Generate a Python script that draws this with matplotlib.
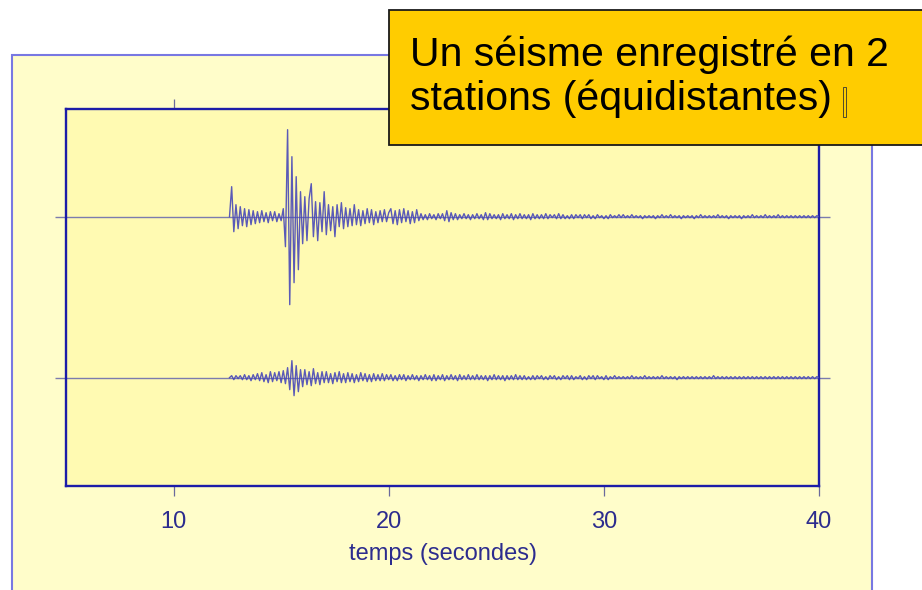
import numpy as np
import matplotlib
matplotlib.use("Agg")
import matplotlib.pyplot as plt
from matplotlib.patches import Rectangle

# ---------------- data ----------------
title_lines = ["Un séisme enregistré en 2", "stations (équidistantes)"]
x_label = "temps (secondes)"
x_ticks = [10, 20, 30, 40]

t_start = 12.6      # s, first sample of both records
dt = 0.1            # s, sample interval

# station 1 (upper trace), amplitude in counts
station_top = [
    0, 30, -15, 12, -12,
    10, -9, 8, -10, 7, -8, 6, -7, 5, -6,
    6, -5, 4, -6, 5, -4, 5, -5, 3, -4,
    8, -30, 87, -88, 60, -66, 40, -53, 25, -27,
    20, -24, 18, 33, -20, 15, -24, 14, -15, 25,
    -18, 12, -14, 10, -20, 12, -10, 14, -12, 9,
    -10, 8, -9, 12, -8, 7, -9, 6, -7, 8,
    -6, 7, -8, 5, -6, 6, -5, 7, -5, 4,
    8, -7, 6, -8, 7, -6, 8, -5, 6, -7,
    5, -6, 7, -4, 3, -3, 2, -3, 3, -2,
    2, -3, 3, -2, 3, -4, 6, -5, 4, -3,
    3, -3, 2, -2, 3, -2, 2, -3, 2, -2,
    3, -2, 2, -3, 4, -3, 3, -2, 2, -2,
    2, -3, 3, -2, 2, -2, 3, -3, 2, -2,
    3, -2, 2, -2, 2, -3, 3, -2, 2, -2,
    2, -2, 3, -2, 2, -1, 2, -2, 3, -2,
    2, -2, 1, -2, 2, -2, 2, -1, 2, -2,
    2, -1, 2, -2, 1, -2, 2, -1, 1, -2,
    1, -2, 2, -1, 1, -1, 2, -1, 2, -1,
    1, -1, 2, -1, 1, -1, 1, -2, 1, -1,
    1, -1, 1, -2, 1, -1, 2, -1, 1, -1,
    2, -1, 1, -1, 1, -2, 1, -1, 1, -1,
    1, -2, 1, -1, 2, -1, 1, -1, 1, -1,
    1, -1, 2, -1, 1, -1, 1, -2, 1, -1,
    1, -1, 1, -2, 1, -1, 1, -1, 2, -1,
    1, -1, 1, -1, 2, -1, 1, -1, 1, -1,
    2, -1, 1, -1, 1, -1, 1, -1, 1, -1,
    1, -1, 1, -1, 1, -1, 1, -1, 1, 0,
]

# station 2 (lower trace), amplitude in counts
station_bottom = [
    0, 2, -2, 2, -1,
    2, -2, 3, -2, 2, -3, 3, -2, 4, -3,
    5, -4, 3, -5, 6, -4, 5, -3, 6, -5,
    7, -6, 10, -12, 17, -18, 12, -14, 8, -9,
    8, -7, 6, -8, 9, -6, 5, -7, 6, -5,
    6, -5, 4, -6, 5, -4, 6, -5, 4, -5,
    5, -4, 4, -5, 3, -4, 5, -3, 4, -4,
    3, -4, 4, -3, 3, -3, 4, -3, 3, -2,
    3, -3, 2, -3, 3, -2, 3, -3, 2, -2,
    3, -2, 2, -3, 2, -2, 3, -2, 2, -3,
    3, -3, 2, -2, 3, -3, 2, -2, 3, -2,
    2, -3, 3, -2, 2, -2, 3, -2, 2, -2,
    3, -2, 2, -2, 2, -3, 2, -2, 3, -2,
    2, -2, 2, -3, 2, -2, 2, -2, 3, -2,
    2, -2, 2, -2, 1, -2, 2, -2, 2, -1,
    2, -2, 1, -2, 2, -1, 2, -2, 1, -2,
    2, -1, 2, -2, 2, -2, 1, -1, 2, -2,
    1, -2, 2, -1, 2, -2, 2, -1, 1, -2,
    2, -2, 1, -1, 2, -1, 1, -1, 1, -1,
    1, -1, 2, -1, 1, -1, 1, -1, 2, -1,
    1, -1, 1, -1, 1, -1, 2, -1, 1, -1,
    1, -1, 1, -2, 1, -1, 1, -1, 1, -1,
    1, -1, 1, -1, 1, -1, 1, -1, 1, -1,
    2, -1, 1, -1, 1, -1, 1, -1, 1, -1,
    1, -1, 1, -1, 1, -1, 1, -1, 1, -1,
    1, -1, 1, -1, 1, -1, 1, -1, 1, -1,
    1, -1, 1, -1, 1, -1, 1, -1, 1, -1,
    1, -1, 1, -1, 1, -1, 1, -1, 1, 0,
]

# ---------------- styling / layout ----------------
plt.rcParams["font.family"] = ["Liberation Sans", "DejaVu Sans"]
W, H = 922, 590
fig = plt.figure(figsize=(W / 100, H / 100), dpi=100, facecolor="white")

# outer pale-yellow panel
fig.add_artist(Rectangle((12 / W, -0.02), 860 / W, (H - 55) / H + 0.02,
                         transform=fig.transFigure, facecolor="#fffdca",
                         edgecolor="#7878e2", lw=1.5, zorder=-5))

ax = fig.add_axes([66 / W, (H - 486) / H, (819 - 66) / W, (486 - 108.5) / H])
ax.set_facecolor("#fffab2")
for s in ax.spines.values():
    s.set_color("#1c1ca8")
    s.set_linewidth(1.7)

counts_per_unit = 161.0
offsets = {"top": 1.0, "bottom": 0.0}
ax.set_xlim(5, 40)
ax.set_ylim(-0.673, 1.672)

# baselines extending slightly past the frame
for off in offsets.values():
    ax.hlines(off, 4.5, 40.5, color="#7c7cae", lw=1.0, clip_on=False, zorder=2)

for key, vals in (("top", station_top), ("bottom", station_bottom)):
    v = np.asarray(vals, dtype=float)
    t = t_start + dt * np.arange(len(v))
    ax.plot(t, offsets[key] + v / counts_per_unit, color="#4848b8",
            lw=1.0, alpha=0.9, zorder=3)

ax.set_xticks(x_ticks)
ax.set_xticklabels([str(v) for v in x_ticks])
ax.set_yticks([])
ax.tick_params(axis="x", direction="out", length=7, width=0.9,
               color="#6a6a9c", labelsize=17, labelcolor="#2c2c8e",
               top=True, bottom=True, pad=11)
ax.set_xlabel(x_label, fontsize=17, color="#2c2c8e", labelpad=7)

# title box
fig.add_artist(Rectangle((389 / W, (H - 145) / H), 0.7, (145 - 10) / H,
                         transform=fig.transFigure, facecolor="#ffcc00",
                         edgecolor="#1a1a1a", lw=1.3, zorder=10))
fig.text(410 / W, (H - 66) / H, title_lines[0], fontsize=29.5,
         color="black", va="baseline", ha="left", zorder=11)
fig.text(410 / W, (H - 110) / H, title_lines[1], fontsize=29.5,
         color="black", va="baseline", ha="left", zorder=11)
# small text cursor mark after the title
fig.add_artist(Rectangle((843 / W, (H - 117) / H), 3 / W, 30 / H,
                         transform=fig.transFigure, facecolor="none",
                         edgecolor="#333333", lw=0.6, zorder=11))

fig.savefig("out.png", dpi=100, facecolor="white")
